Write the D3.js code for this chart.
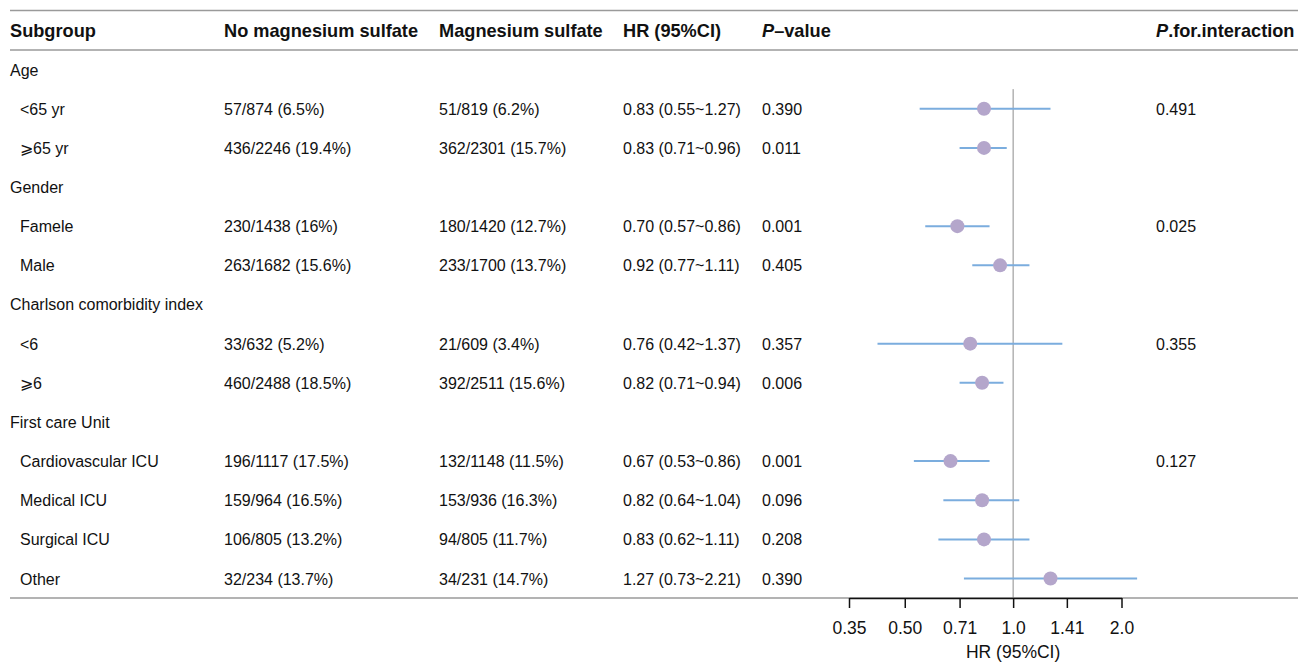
<!DOCTYPE html>
<html>
<head>
<meta charset="utf-8">
<script src="https://cdn.jsdelivr.net/npm/d3@7"></script>
<style>
  body { margin: 0; background: #fff; }
  svg text { font-family: "Liberation Sans", Arial, Helvetica, sans-serif; fill: #111; }
</style>
</head>
<body>
<div id="my_dataviz"></div>
<script>
// rows of the table (heading rows have no estimate)
const labels = ["Age", "<65 yr", "\u2A7E65 yr", "Gender", "Famele", "Male",
  "Charlson comorbidity index", "<6", "\u2A7E6", "First care Unit",
  "Cardiovascular ICU", "Medical ICU", "Surgical ICU", "Other"]
const isHeading = [1, 0, 0, 1, 0, 0, 1, 0, 0, 1, 0, 0, 0, 0]
const noMg = ["", "57/874 (6.5%)", "436/2246 (19.4%)", "", "230/1438 (16%)", "263/1682 (15.6%)",
  "", "33/632 (5.2%)", "460/2488 (18.5%)", "", "196/1117 (17.5%)", "159/964 (16.5%)",
  "106/805 (13.2%)", "32/234 (13.7%)"]
const mgSulf = ["", "51/819 (6.2%)", "362/2301 (15.7%)", "", "180/1420 (12.7%)", "233/1700 (13.7%)",
  "", "21/609 (3.4%)", "392/2511 (15.6%)", "", "132/1148 (11.5%)", "153/936 (16.3%)",
  "94/805 (11.7%)", "34/231 (14.7%)"]
const hr    = [null, 0.83, 0.83, null, 0.70, 0.92, null, 0.76, 0.82, null, 0.67, 0.82, 0.83, 1.27]
const lower = [null, 0.55, 0.71, null, 0.57, 0.77, null, 0.42, 0.71, null, 0.53, 0.64, 0.62, 0.73]
const upper = [null, 1.27, 0.96, null, 0.86, 1.11, null, 1.37, 0.94, null, 0.86, 1.04, 1.11, 2.21]
const pValue = ["", "0.390", "0.011", "", "0.001", "0.405", "", "0.357", "0.006", "", "0.001", "0.096", "0.208", "0.390"]
const pInter = ["", "0.491", "", "", "0.025", "", "", "0.355", "", "", "0.127", "", "", ""]
const tickVals = [0.35, 0.50, 0.71, 1.0, 1.41, 2.0]
const tickLabels = ["0.35", "0.50", "0.71", "1.0", "1.41", "2.0"]

const width = 1298, height = 662
const svg = d3.select("#my_dataviz").append("svg")
  .attr("width", width).attr("height", height)

const rowH = 39.15, topY = 50
const y = i => topY + rowH * i + rowH / 2
const x = d3.scaleLog().base(2).domain([0.35, 2]).range([849, 1121.5])

const fmtHR = i => hr[i] == null ? "" :
  `${hr[i].toFixed(2)} (${lower[i].toFixed(2)}~${upper[i].toFixed(2)})`

// header
const cols = [10, 224, 439, 623, 762, 1156]
const head = svg.append("g").attr("font-weight", "bold").attr("font-size", "18.2px")
head.append("text").attr("x", cols[0]).attr("y", 37).text("Subgroup")
head.append("text").attr("x", cols[1]).attr("y", 37).text("No magnesium sulfate")
head.append("text").attr("x", cols[2]).attr("y", 37).text("Magnesium sulfate")
head.append("text").attr("x", cols[3]).attr("y", 37).text("HR (95%CI)")
const pv = head.append("text").attr("x", cols[4]).attr("y", 37)
pv.append("tspan").attr("font-style", "italic").text("P")
pv.append("tspan").text("\u2013value")
const pi = head.append("text").attr("x", cols[5]).attr("y", 37)
pi.append("tspan").attr("font-style", "italic").text("P")
pi.append("tspan").text(".for.interaction")

// horizontal rules
svg.selectAll("line.rule").data([10.5, 50, 598]).join("line")
  .attr("class", "rule")
  .attr("x1", 10).attr("x2", width)
  .attr("y1", d => d).attr("y2", d => d)
  .attr("stroke", "#9a9a9a").attr("stroke-width", 1.5)

// table body
const body = svg.append("g").attr("font-size", "16px")
const rows = body.selectAll("g").data(labels).join("g")
  .attr("transform", (d, i) => `translate(0,${y(i) + 6})`)
rows.append("text").attr("x", (d, i) => isHeading[i] ? 10 : 20).text(d => d)
rows.append("text").attr("x", cols[1]).text((d, i) => noMg[i])
rows.append("text").attr("x", cols[2]).text((d, i) => mgSulf[i])
rows.append("text").attr("x", cols[3]).text((d, i) => fmtHR(i))
rows.append("text").attr("x", cols[4]).text((d, i) => pValue[i])
rows.append("text").attr("x", cols[5]).text((d, i) => pInter[i])

// reference line at HR = 1
svg.append("line")
  .attr("x1", x(1)).attr("x2", x(1))
  .attr("y1", topY + rowH).attr("y2", 598)
  .attr("stroke", "#8c8c8c").attr("stroke-width", 1)

const idx = d3.range(labels.length).filter(i => hr[i] != null)

svg.selectAll("line.ci").data(idx).join("line")
  .attr("class", "ci")
  .attr("x1", i => x(lower[i])).attr("x2", i => x(upper[i]))
  .attr("y1", i => y(i)).attr("y2", i => y(i))
  .attr("stroke", "#7badde").attr("stroke-width", 2)

svg.selectAll("circle").data(idx).join("circle")
  .attr("cx", i => x(hr[i])).attr("cy", i => y(i)).attr("r", 7)
  .attr("fill", "#b4a6cb")

// x axis
const axis = svg.append("g").attr("transform", "translate(0,598)")
  .call(d3.axisBottom(x).tickValues(tickVals).tickFormat((d, i) => tickLabels[i])
    .tickSize(10).tickSizeOuter(0).tickPadding(14))
axis.select(".domain").attr("stroke", "#111").attr("stroke-width", 1.5)
axis.selectAll(".tick line").attr("stroke", "#111").attr("stroke-width", 1.5)
axis.selectAll(".tick text").attr("font-size", "17.5px").attr("fill", "#111")
  .attr("font-family", "Liberation Sans, Arial, sans-serif")

svg.append("text").attr("x", x(1)).attr("y", 658)
  .attr("text-anchor", "middle").attr("font-size", "17.5px")
  .text("HR (95%CI)")
</script>
</body>
</html>
